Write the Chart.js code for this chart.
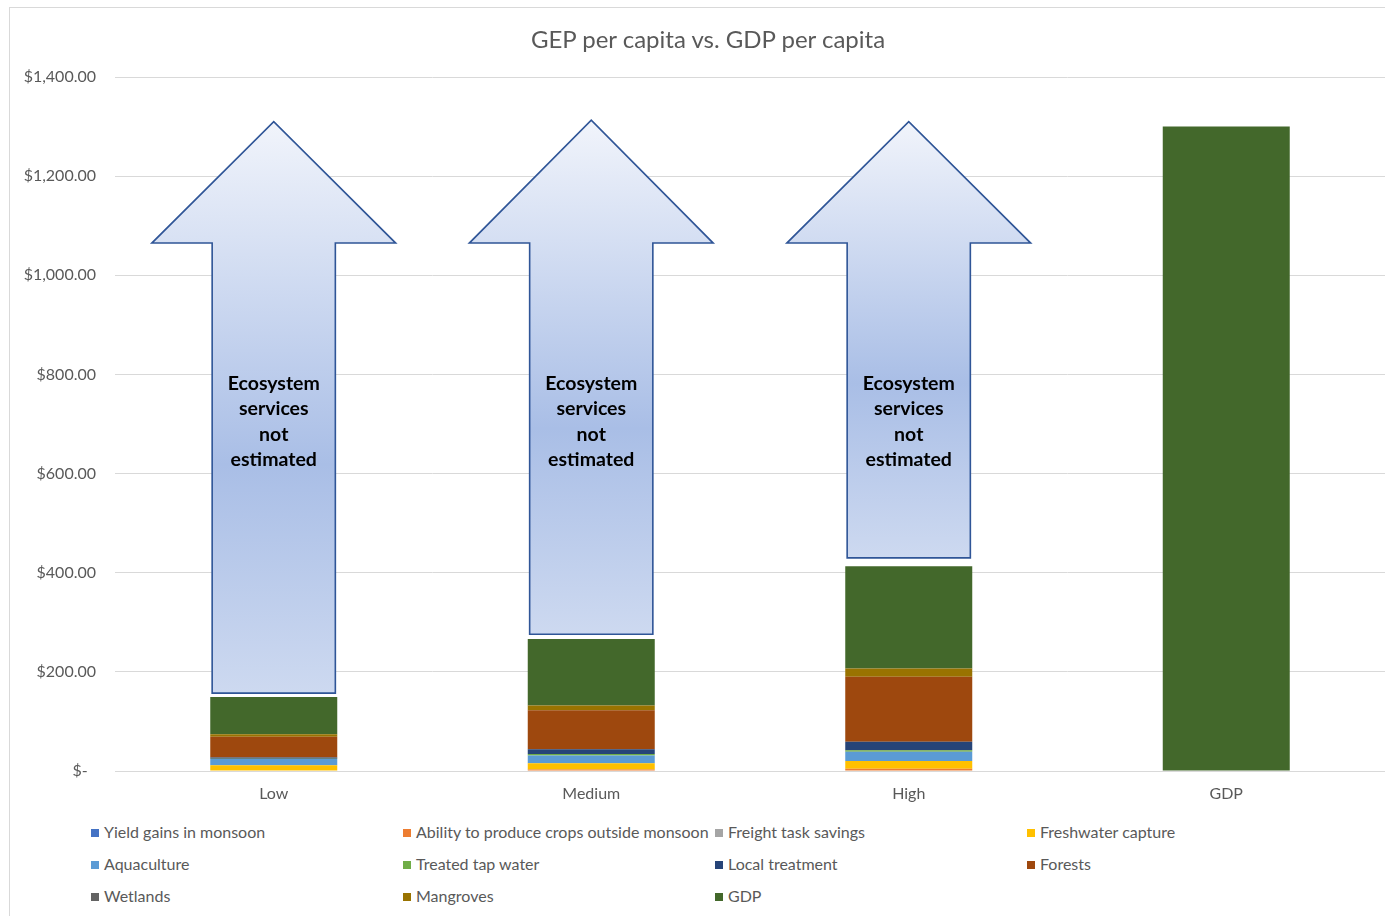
<!DOCTYPE html>
<html>
<head>
<meta charset="utf-8">
<script src="https://cdn.jsdelivr.net/npm/chart.js@4.4.1/dist/chart.umd.min.js"></script>
<style>
  body { margin: 0; background: #fff; font-family: Lato, sans-serif; }
  #frame { position: absolute; left: 9px; top: 7px; width: 1400px; height: 940px; border: 1px solid #d9d9d9; }
  #title { position: absolute; left: 408px; top: 24px; width: 600px; text-align: center;
           font-size: 24px; color: #595959; line-height: 30px; }
  #wrap { position: absolute; left: 0; top: 0; width: 1385px; height: 815px; }
  #legend { position: absolute; left: 91px; top: 822px; width: 1250px; display: grid;
            grid-template-columns: 312px 312px 312px 312px; row-gap: 12px; }
  .item { font-size: 16px; color: #595959; height: 20px; line-height: 20px; white-space: nowrap; }
  .box { display: inline-block; width: 8px; height: 8px; margin-right: 5px; vertical-align: 1px; }
</style>
</head>
<body>
<div id="frame"></div>
<div id="wrap"><canvas id="chart"></canvas></div>
<div id="title">GEP per capita vs. GDP per capita</div>
<div id="legend"></div>
<script>
const categories = ["Low", "Medium", "High", "GDP"];

const seriesNames = ["Yield gains in monsoon", "Ability to produce crops outside monsoon", "Freight task savings",
  "Freshwater capture", "Aquaculture", "Treated tap water", "Local treatment", "Forests", "Wetlands", "Mangroves", "GDP"];
const seriesColors = ["#4472c4", "#ed7d31", "#a5a5a5", "#ffc000", "#5b9bd5", "#70ad47", "#264478",
  "#9e480e", "#636363", "#997300", "#43682b"];

const yieldGains = [0, 0, 0, 0];
const abilityCrops = [0, 3, 4.5, 0];
const freightSavings = [0, 0, 0, 0];
const freshwater = [11.5, 12.7, 15.5, 0];
const aquaculture = [12.7, 15.5, 19, 0];
const tapWater = [0.5, 3, 3, 0];
const localTreatment = [2.6, 9.5, 17, 0];
const forests = [42, 79, 131, 0];
const wetlands = [0, 0, 0, 0];
const mangroves = [5, 9.5, 17, 0];
const gdp = [75, 134, 206, 1300];

// arrows: where the shaft starts, head base, tip (in $)
const arrowBase = [157, 276, 430];
const arrowHeadBase = [1065, 1065, 1065];
const arrowTip = [1310, 1313, 1310];
const arrowLabel = ["Ecosystem", "services", "not", "estimated"];
const yTicks = [0, 200, 400, 600, 800, 1000, 1200, 1400];

const seriesData = [yieldGains, abilityCrops, freightSavings, freshwater, aquaculture, tapWater,
  localTreatment, forests, wetlands, mangroves, gdp];

const datasets = seriesNames.map((name, i) => ({
  label: name,
  data: seriesData[i],
  backgroundColor: seriesColors[i],
  borderWidth: 0,
  barPercentage: 0.4,
  categoryPercentage: 1.0
}));

function money(v) {
  if (v === 0) return "$-  ";
  return "$" + v.toLocaleString("en-US", { minimumFractionDigits: 2, maximumFractionDigits: 2 });
}

const arrowPlugin = {
  id: "arrows",
  afterDatasetsDraw(chart) {
    const ctx = chart.ctx;
    const x = chart.scales.x, y = chart.scales.y;
    const meta = chart.getDatasetMeta(0);
    arrowBase.forEach((base, i) => {
      const cx = x.getPixelForValue(i);
      const bw = meta.data[i].width;
      const sh = bw * 0.485, hh = bw * 0.96;
      const yb = y.getPixelForValue(base);
      const yh = y.getPixelForValue(arrowHeadBase[i]);
      const yt = y.getPixelForValue(arrowTip[i]);
      ctx.save();
      ctx.beginPath();
      ctx.moveTo(cx - sh, yb);
      ctx.lineTo(cx - sh, yh);
      ctx.lineTo(cx - hh, yh);
      ctx.lineTo(cx, yt);
      ctx.lineTo(cx + hh, yh);
      ctx.lineTo(cx + sh, yh);
      ctx.lineTo(cx + sh, yb);
      ctx.closePath();
      const g = ctx.createLinearGradient(0, yt, 0, yb);
      g.addColorStop(0, "#f1f4fb");
      g.addColorStop(0.6, "#a9bee6");
      g.addColorStop(1, "#cdd9f0");
      ctx.fillStyle = g;
      ctx.fill();
      ctx.lineWidth = 1.6;
      ctx.strokeStyle = "#2f5597";
      ctx.stroke();
      ctx.fillStyle = "#000";
      ctx.font = "bold 19.5px Lato, sans-serif";
      ctx.textAlign = "center";
      ctx.textBaseline = "middle";
      const ty = y.getPixelForValue(705);
      arrowLabel.forEach((t, k) => ctx.fillText(t, cx, ty + (k - 1.5) * 25.5));
      ctx.restore();
    });
  }
};

new Chart(document.getElementById("chart"), {
  type: "bar",
  data: { labels: categories, datasets: datasets },
  plugins: [arrowPlugin],
  options: {
    responsive: true,
    maintainAspectRatio: false,
    animation: false,
    layout: { padding: { top: 77, right: 0, left: 0, bottom: 0 } },
    plugins: {
      legend: { display: false },
      tooltip: { enabled: false },
      title: { display: false }
    },
    scales: {
      x: {
        stacked: true,
        grid: { display: false, drawTicks: false },
        border: { color: "#d9d9d9", width: 1 },
        ticks: { color: "#595959", font: { family: "Lato", size: 16 }, padding: 13 },
        afterFit(s) { s.height = 44; }
      },
      y: {
        stacked: true,
        min: 0,
        max: 1400,
        afterBuildTicks(s) { s.ticks = yTicks.map(v => ({ value: v })); },
        grid: { color: "#d9d9d9", drawTicks: false },
        border: { display: false },
        ticks: { color: "#595959", font: { family: "Lato", size: 16 }, padding: 19, callback: v => money(v) },
        afterFit(s) { s.width = 115; }
      }
    }
  }
});

const legendEl = document.getElementById("legend");
seriesNames.forEach((name, i) => {
  const d = document.createElement("div");
  d.className = "item";
  d.innerHTML = '<span class="box" style="background:' + seriesColors[i] + '"></span>' + name;
  legendEl.appendChild(d);
});
</script>
</body>
</html>
